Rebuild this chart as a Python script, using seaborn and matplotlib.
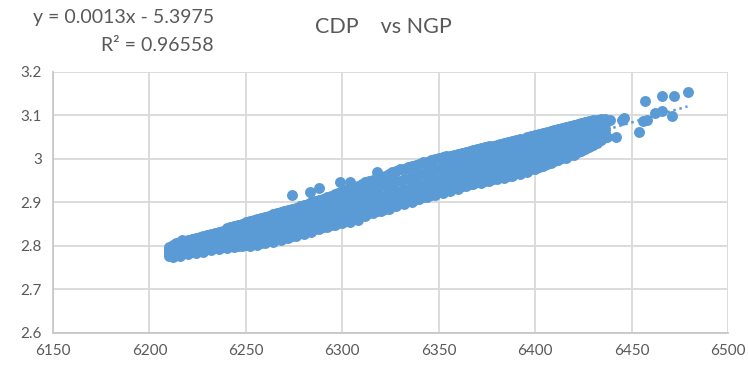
import numpy as np
import pandas as pd
import matplotlib
matplotlib.use("Agg")
import matplotlib.pyplot as plt
import seaborn as sns

# NGP readings (x); each has five CDP readings spread across the band
ngp = [6210, 6212, 6214, 6216, 6218, 6220, 6222, 6224, 6226, 6228,
       6230, 6232, 6234, 6236, 6238, 6240, 6242, 6244, 6246, 6248,
       6250, 6252, 6254, 6256, 6258, 6260, 6262, 6264, 6266, 6268,
       6270, 6272, 6274, 6276, 6278, 6280, 6282, 6284, 6286, 6288,
       6290, 6292, 6294, 6296, 6298, 6300, 6302, 6304, 6306, 6308,
       6310, 6312, 6314, 6316, 6318, 6320, 6322, 6324, 6326, 6328,
       6330, 6332, 6334, 6336, 6338, 6340, 6342, 6344, 6346, 6348,
       6350, 6352, 6354, 6356, 6358, 6360, 6362, 6364, 6366, 6368,
       6370, 6372, 6374, 6376, 6378, 6380, 6382, 6384, 6386, 6388,
       6390, 6392, 6394, 6396, 6398, 6400, 6402, 6404, 6406, 6408,
       6410, 6412, 6414, 6416, 6418, 6420, 6422, 6424, 6426, 6428,
       6430, 6432, 6434, 6436]

cdp_low = [2.777, 2.774, 2.780, 2.778, 2.783, 2.781, 2.786, 2.784, 2.789, 2.787,
           2.792, 2.790, 2.795, 2.793, 2.797, 2.795, 2.799, 2.797, 2.801, 2.799,
           2.803, 2.801, 2.805, 2.803, 2.808, 2.806, 2.811, 2.809, 2.815, 2.813,
           2.819, 2.818, 2.824, 2.823, 2.829, 2.828, 2.834, 2.833, 2.839, 2.838,
           2.844, 2.843, 2.849, 2.848, 2.853, 2.852, 2.857, 2.856, 2.861, 2.860,
           2.871, 2.870, 2.876, 2.875, 2.881, 2.880, 2.886, 2.885, 2.892, 2.891,
           2.898, 2.897, 2.903, 2.902, 2.908, 2.907, 2.913, 2.912, 2.918, 2.917,
           2.923, 2.922, 2.928, 2.927, 2.933, 2.932, 2.938, 2.937, 2.943, 2.942,
           2.948, 2.945, 2.950, 2.949, 2.954, 2.953, 2.958, 2.957, 2.962, 2.961,
           2.967, 2.966, 2.972, 2.971, 2.977, 2.976, 2.982, 2.983, 2.989, 2.990,
           2.996, 2.997, 3.002, 3.003, 3.009, 3.010, 3.016, 3.018, 3.024, 3.027,
           3.033, 3.037, 3.044, 3.050]

cdp_q1 = [2.784, 2.781, 2.786, 2.785, 2.790, 2.789, 2.795, 2.793, 2.796, 2.799,
          2.798, 2.802, 2.801, 2.805, 2.804, 2.807, 2.806, 2.810, 2.809, 2.813,
          2.812, 2.816, 2.815, 2.819, 2.819, 2.822, 2.822, 2.826, 2.826, 2.830,
          2.831, 2.835, 2.836, 2.840, 2.841, 2.845, 2.846, 2.850, 2.851, 2.855,
          2.856, 2.860, 2.861, 2.866, 2.866, 2.870, 2.871, 2.875, 2.876, 2.880,
          2.880, 2.884, 2.885, 2.889, 2.890, 2.894, 2.895, 2.900, 2.901, 2.905,
          2.907, 2.911, 2.912, 2.917, 2.918, 2.922, 2.923, 2.927, 2.928, 2.932,
          2.933, 2.938, 2.939, 2.943, 2.944, 2.948, 2.949, 2.953, 2.954, 2.958,
          2.959, 2.964, 2.965, 2.969, 2.970, 2.974, 2.975, 2.979, 2.980, 2.985,
          2.986, 2.990, 2.991, 2.995, 2.996, 3.000, 3.001, 3.006, 3.007, 3.012,
          3.013, 3.018, 3.019, 3.024, 3.025, 3.030, 3.031, 3.036, 3.038, 3.043,
          3.045, 3.051, 3.053, 3.060]

cdp_mid = [2.790, 2.786, 2.795, 2.792, 2.800, 2.797, 2.803, 2.806, 2.802, 2.809,
           2.806, 2.812, 2.809, 2.815, 2.812, 2.818, 2.815, 2.822, 2.818, 2.826,
           2.822, 2.830, 2.826, 2.834, 2.830, 2.838, 2.834, 2.842, 2.838, 2.847,
           2.843, 2.852, 2.848, 2.857, 2.853, 2.862, 2.858, 2.867, 2.863, 2.872,
           2.868, 2.878, 2.874, 2.884, 2.880, 2.889, 2.885, 2.894, 2.890, 2.899,
           2.895, 2.904, 2.900, 2.910, 2.906, 2.915, 2.911, 2.921, 2.917, 2.926,
           2.922, 2.932, 2.928, 2.938, 2.934, 2.943, 2.939, 2.949, 2.945, 2.954,
           2.950, 2.960, 2.956, 2.965, 2.961, 2.970, 2.966, 2.976, 2.972, 2.981,
           2.977, 2.987, 2.983, 2.992, 2.988, 2.998, 2.994, 3.003, 2.999, 3.009,
           3.005, 3.014, 3.010, 3.020, 3.016, 3.025, 3.021, 3.030, 3.026, 3.035,
           3.031, 3.040, 3.036, 3.045, 3.041, 3.050, 3.047, 3.055, 3.052, 3.060,
           3.058, 3.065, 3.063, 3.070]

cdp_q3 = [2.794, 2.795, 2.801, 2.803, 2.807, 2.806, 2.810, 2.813, 2.812, 2.817,
          2.816, 2.820, 2.820, 2.824, 2.823, 2.828, 2.827, 2.832, 2.831, 2.836,
          2.836, 2.840, 2.839, 2.845, 2.844, 2.849, 2.849, 2.854, 2.854, 2.859,
          2.865, 2.870, 2.870, 2.875, 2.874, 2.880, 2.879, 2.885, 2.884, 2.890,
          2.890, 2.896, 2.896, 2.902, 2.902, 2.908, 2.907, 2.913, 2.913, 2.919,
          2.919, 2.925, 2.925, 2.931, 2.931, 2.937, 2.937, 2.943, 2.943, 2.949,
          2.949, 2.955, 2.955, 2.961, 2.961, 2.966, 2.966, 2.972, 2.971, 2.977,
          2.976, 2.982, 2.981, 2.987, 2.986, 2.992, 2.991, 2.997, 2.997, 3.003,
          3.002, 3.009, 3.008, 3.014, 3.014, 3.020, 3.019, 3.024, 3.023, 3.028,
          3.027, 3.032, 3.031, 3.036, 3.034, 3.040, 3.039, 3.044, 3.044, 3.049,
          3.048, 3.054, 3.053, 3.059, 3.058, 3.064, 3.063, 3.069, 3.068, 3.073,
          3.073, 3.078, 3.077, 3.081]

cdp_high = [2.798, 2.802, 2.806, 2.810, 2.812, 2.814, 2.816, 2.819, 2.821, 2.824,
            2.826, 2.827, 2.831, 2.832, 2.834, 2.841, 2.844, 2.847, 2.849, 2.851,
            2.855, 2.857, 2.859, 2.862, 2.864, 2.867, 2.870, 2.873, 2.876, 2.878,
            2.880, 2.882, 2.885, 2.888, 2.891, 2.894, 2.897, 2.900, 2.903, 2.906,
            2.909, 2.913, 2.916, 2.919, 2.922, 2.926, 2.929, 2.932, 2.936, 2.939,
            2.943, 2.946, 2.949, 2.952, 2.955, 2.958, 2.962, 2.965, 2.969, 2.972,
            2.976, 2.978, 2.981, 2.984, 2.987, 2.989, 2.992, 2.994, 2.997, 2.999,
            3.002, 3.004, 3.006, 3.008, 3.010, 3.012, 3.014, 3.016, 3.019, 3.021,
            3.023, 3.025, 3.027, 3.029, 3.031, 3.033, 3.035, 3.037, 3.039, 3.041,
            3.043, 3.045, 3.047, 3.050, 3.052, 3.055, 3.057, 3.059, 3.062, 3.064,
            3.066, 3.068, 3.071, 3.073, 3.075, 3.078, 3.080, 3.083, 3.085, 3.087,
            3.089, 3.090, 3.091, 3.092]

# Scattered readings off the main band and the sparse upper-right tail
ngp_extra = [6217, 6274, 6283, 6288, 6299, 6304, 6318, 6323, 6312, 6331,
             6437, 6439, 6442, 6445, 6446, 6454, 6456, 6457, 6458, 6462,
             6466, 6466, 6471, 6472, 6479]
cdp_extra = [2.813, 2.917, 2.924, 2.933, 2.947, 2.947, 2.970, 2.956, 2.940, 2.905,
             3.051, 3.090, 3.051, 3.090, 3.094, 3.062, 3.087, 3.133, 3.090, 3.105,
             3.110, 3.145, 3.099, 3.145, 3.154]

x_all = ngp * 5 + ngp_extra
y_all = cdp_low + cdp_q1 + cdp_mid + cdp_q3 + cdp_high + cdp_extra
df = pd.DataFrame({"NGP": x_all, "CDP": y_all})

blue = "#5B9BD5"
text_col = "#595959"
grid_col = "#D9D9D9"

sns.set_theme(style="white")
plt.rcParams["font.family"] = ["Lato", "DejaVu Sans"]

fig = plt.figure(figsize=(7.48, 3.66), dpi=100)
ax = fig.add_axes([0.0709, 0.0902, 0.9024, 0.7131])

sns.scatterplot(data=df, x="NGP", y="CDP", ax=ax, color=blue, s=62,
                linewidth=0, alpha=1.0, zorder=3)
sns.regplot(data=df, x="NGP", y="CDP", ax=ax, scatter=False, ci=None,
            color=blue, truncate=True,
            line_kws=dict(linestyle=(0, (1, 1.5)), linewidth=1.8, zorder=4))

ax.set_xlim(6150, 6500)
ax.set_ylim(2.6, 3.2)
ax.set_xticks([6150, 6200, 6250, 6300, 6350, 6400, 6450, 6500])
ax.set_yticks([2.6, 2.7, 2.8, 2.9, 3.0, 3.1, 3.2])
ax.set_yticklabels(["2.6", "2.7", "2.8", "2.9", "3", "3.1", "3.2"])
ax.set_xlabel("")
ax.set_ylabel("")
ax.grid(True, color=grid_col, linewidth=1.3)
ax.set_axisbelow(True)
for side in ["top", "right"]:
    ax.spines[side].set_visible(False)
for side in ["left", "bottom"]:
    ax.spines[side].set_color("#C8C8C8")
    ax.spines[side].set_linewidth(1.3)
ax.tick_params(axis="both", length=0, labelsize=11, labelcolor=text_col, pad=8)

fig.text(0.513, 0.925, "CDP    vs NGP", ha="center", va="center",
         fontsize=15.5, color=text_col)
fig.text(0.286, 0.953, "y = 0.0013x - 5.3975", ha="right", va="center",
         fontsize=14, color=text_col)
fig.text(0.286, 0.877, "R² = 0.96558", ha="right", va="center",
         fontsize=14, color=text_col)

fig.savefig("out.png", dpi=100)
